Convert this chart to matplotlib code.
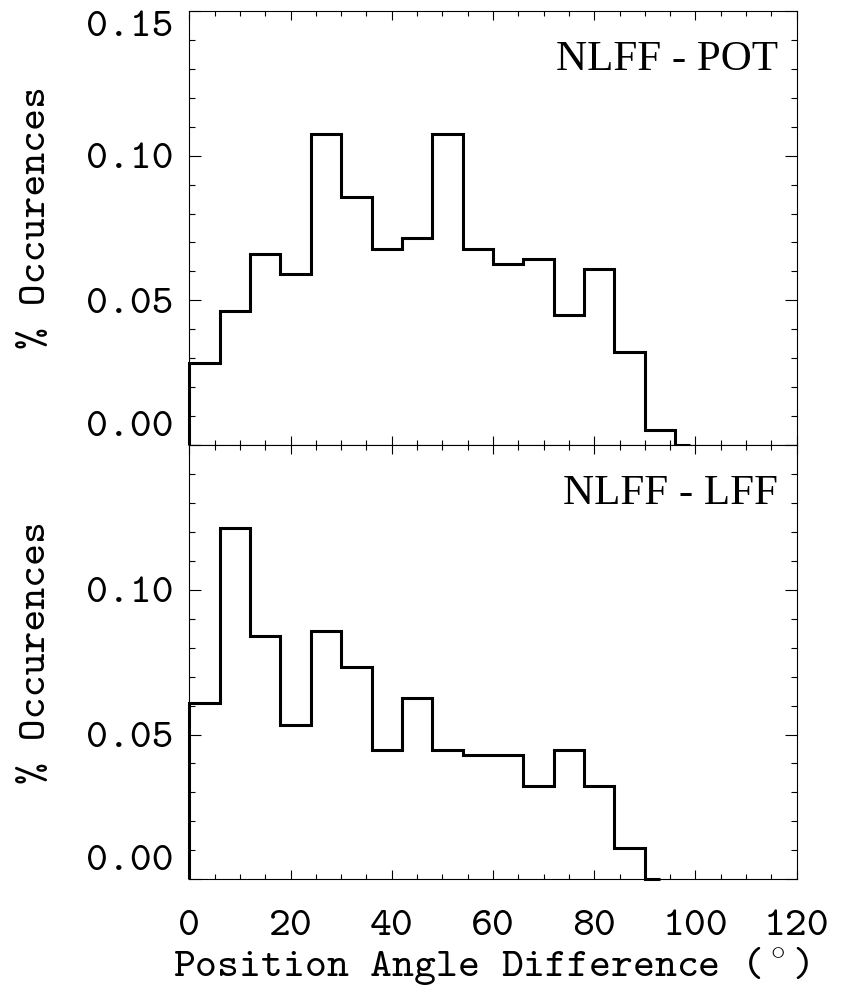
import numpy as np
import matplotlib
matplotlib.use('Agg')
import matplotlib.pyplot as plt
from matplotlib.ticker import MultipleLocator

plt.rcParams['mathtext.fontset'] = 'cm'

# histogram values, 6 degree bins (last entry is the empty half bin)
bin_width = 6
pot_vals = [0.0285, 0.0464, 0.0660, 0.0590, 0.1074, 0.0858, 0.0679, 0.0717, 0.1074,
            0.0679, 0.0627, 0.0644, 0.0449, 0.0609, 0.0323, 0.0052, 0.0]
lff_vals = [0.0608, 0.1214, 0.0839, 0.0534, 0.0858, 0.0732, 0.0447, 0.0626, 0.0447,
            0.0428, 0.0428, 0.0322, 0.0447, 0.0322, 0.0109, 0.0]
panel_names = ['NLFF - POT', 'NLFF - LFF']
xticks = [0, 20, 40, 60, 80, 100, 120]
yticks = [0.00, 0.05, 0.10, 0.15]

tick_font = ['cmtt10', 'DejaVu Serif']
fsize = 30


def bin_edges(vals):
    n = len(vals)
    edges = list(np.arange(n) * bin_width)
    edges.append(edges[-1] + bin_width / 2)  # half bin at the end
    return edges


def nice_axes(ax):
    ax.set_xlim(0, 120)
    ax.set_ylim(0, 0.15)
    ax.set_xticks(xticks)
    ax.set_yticks(yticks)
    ax.xaxis.set_minor_locator(MultipleLocator(5))
    ax.yaxis.set_minor_locator(MultipleLocator(0.01))
    ax.tick_params(axis='both', which='both', direction='in', top=True, right=True,
                   width=0.8, color='black')
    ax.tick_params(axis='x', which='major', length=6.5, pad=22)
    ax.tick_params(axis='x', which='minor', length=3.4)
    ax.tick_params(axis='y', which='major', length=8.6, pad=11.5)
    ax.tick_params(axis='y', which='minor', length=4.5)
    for spine in ax.spines.values():
        spine.set_linewidth(0.8)
    ax.set_yticklabels(['%.2f' % v for v in yticks], family=tick_font, fontsize=fsize)
    ax.set_xticklabels([str(v) for v in xticks], family=tick_font, fontsize=fsize)


fig = plt.figure(figsize=(8.42, 10), dpi=100)
ax1 = fig.add_axes([0.2248, 0.555, 0.7214, 0.434])
ax2 = fig.add_axes([0.2248, 0.1207, 0.7214, 0.4343])

for ax, vals, name in zip([ax1, ax2], [pot_vals, lff_vals], panel_names):
    nice_axes(ax)
    ax.stairs(vals, bin_edges(vals), baseline=0, fill=False, color='black',
              linewidth=2.2, clip_on=False, zorder=3)
    ax.text(0.969, 0.864, name, transform=ax.transAxes, ha='right', va='baseline',
            family='Liberation Serif', fontsize=31)
    ax.set_ylabel('% Occurences', family=tick_font, fontsize=fsize)
    ax.yaxis.set_label_coords(-0.222, 0.523)

# top panel: no x labels
ax1.tick_params(axis='x', labelbottom=False)
ax1.yaxis.get_major_ticks()[0].label1.set_va('bottom')
ax1.yaxis.get_major_ticks()[-1].label1.set_va('top')

# bottom panel: no label on the top tick
ax2.yaxis.get_major_ticks()[-1].label1.set_visible(False)
ax2.yaxis.get_major_ticks()[0].label1.set_va('bottom')
ax2.set_xlabel(r'Position Angle Difference ($^\circ$)', family=tick_font, fontsize=fsize)
ax2.xaxis.set_label_coords(0.497, -0.152)

fig.savefig('out.png', dpi=100)
